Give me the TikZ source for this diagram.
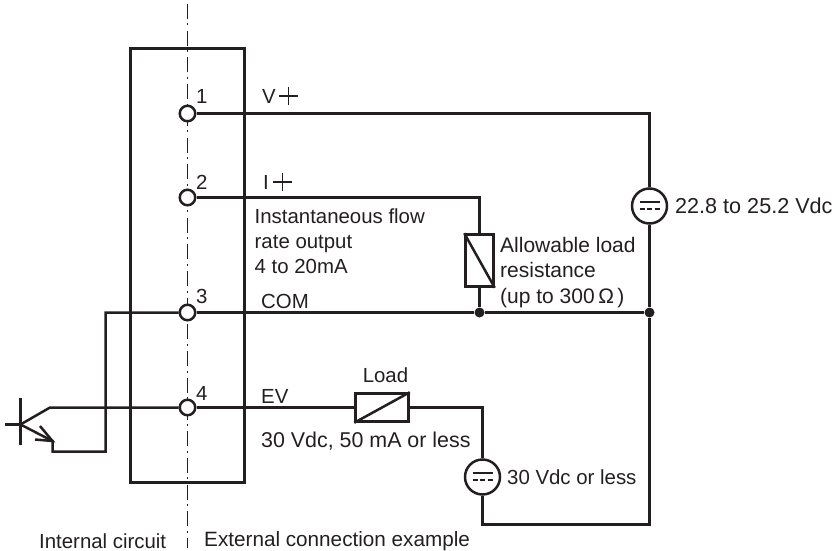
\documentclass[tikz,border=0pt]{standalone}
\usepackage{fontspec}
\setmainfont{Liberation Sans}
\usetikzlibrary{calc}
\definecolor{ink}{HTML}{231F20}
\tikzset{
  x=1pt,y=-1pt,
  wire/.style={draw=ink,line width=2.5pt},
  term/.style={circle,draw=ink,fill=white,line width=2.5pt,minimum size=15.5pt,inner sep=0pt},
  src/.style={circle,draw=ink,fill=white,line width=2.5pt,minimum size=35pt,inner sep=0pt},
  dotj/.style={circle,fill=ink,minimum size=10pt,inner sep=0pt},
  lab/.style={font=\fontsize{20.4}{25.2}\selectfont,text=ink,inner sep=0pt,anchor=west,align=left},
  labwide/.style={lab,font=\fontsize{#1}{25.2}\selectfont},
  load/.style={draw=ink,fill=white,line width=2.5pt,inner sep=0pt},
  center line/.style={draw=ink,line width=1pt,dash pattern=on 15pt off 4.5pt on 2pt off 5.2pt}
}
\newcommand{\srcbars}[1]{%
  \draw[ink,line width=2pt] ($(#1)+(-10,-3.8)$) -- ($(#1)+(10,-3.8)$);
  \draw[ink,line width=2pt,dash pattern=on 5pt off 2.5pt] ($(#1)+(-10,3.2)$) -- ($(#1)+(10,3.2)$);}
\begin{document}
\begin{tikzpicture}
\useasboundingbox (0,0) rectangle (832,551);
% centre line
\coordinate (ct) at (187.5,4);
\coordinate (cb) at (187.5,548);
\draw[center line] (ct) -- (cb);
% housing
\node[draw=ink,line width=2.5pt,minimum width=114pt,minimum height=434pt,inner sep=0pt] (box) at (187.5,265.5) {};
% nets
\coordinate (n1) at (649.5,113.5);
\coordinate (n2) at (479.5,197.5);
\coordinate (br) at (649.5,524.5);
\coordinate (bl) at (482.5,524.5);
\coordinate (lt) at (482.5,407.5);
\coordinate (q3) at (105.5,312.5);
\coordinate (qe) at (105.5,451.5);
\coordinate (qe2) at (52.5,451.5);
\coordinate (qe1) at (52.5,441);
\coordinate (qc) at (50,407.5);
\coordinate (qb) at (20.5,424.5);
\coordinate (qbt) at (20.5,398);
\coordinate (qbb) at (20.5,445);
\coordinate (qin) at (5,424.5);
\coordinate (ar1) at (40,426);
\coordinate (ar2) at (35,439.5);
% terminals
\node[term] (t1) at (187.5,113.5) {};
\node[term] (t2) at (187.5,197.5) {};
\node[term] (t3) at (187.5,312.5) {};
\node[term] (t4) at (187.5,407.5) {};
\node[dotj] (j1) at (479.5,312.5) {};
\node[dotj] (j2) at (649.5,312.5) {};
\node[src] (s1) at (649.5,206) {};
\node[src] (s2) at (482.5,477) {};
\node[load,minimum width=28pt,minimum height=52pt] (rl) at (479.5,260.5) {};
\node[load,minimum width=53pt,minimum height=28pt] (ld) at (382,407.5) {};
% wires
\draw[wire] (t1) -- (n1) -- (s1);
\draw[wire] (s1) -- (j2);
\draw[wire] (t2) -- (n2) -- (rl);
\draw[wire] (rl) -- (j1);
\draw[wire] (t3) -- (j1) -- (j2);
\draw[wire] (j2) -- (br) -- (bl) -- (s2);
\draw[wire] (t4) -- (ld);
\draw[wire] (ld) -- (lt) -- (s2);
\draw[wire,line join=miter] (t3) -- (q3) -- (qe) -- (qe2) -- (qe1) -- (qb);
\draw[wire] (t4) -- (qc) -- (qb);
\draw[wire] (qbt) -- (qbb);
\draw[wire] (qin) -- (qb);
\draw[wire] (ar1) -- (qe1) -- (ar2);
% symbols inside
\draw[ink,line width=2.5pt] (rl.north west) -- (rl.south east);
\draw[ink,line width=2.5pt] (ld.south west) -- (ld.north east);
\srcbars{s1}
\srcbars{s2}
% labels
\node[lab] (l1) at (196,96) {1};
\node[lab] (l2) at (196,182) {2};
\node[lab] (l3) at (196,296.5) {3};
\node[lab] (l4) at (196,393) {4};
\node[lab] (vp) at (262,96) {V};
\node[lab] (ip) at (263,182) {I};
\draw[ink,line width=1.1pt] (279,96) -- (298,96) (288.5,87) -- (288.5,105);
\draw[ink,line width=1.1pt] (273,182) -- (292,182) (282.5,173) -- (282.5,191);
\node[lab] (flow) at (254.5,241) {Instantaneous flow\\rate output\\4 to 20mA};
\node[lab] (com) at (261,301) {COM};
\node[lab] (ev) at (261,396) {EV};
\node[lab,anchor=center] (loadl) at (385.5,375) {Load};
\node[labwide=21.4] (spec) at (261,441) {30 Vdc, 50 mA or less};
\node[labwide=21.6] (v1) at (675,206) {22.8 to 25.2 Vdc};
\node[lab] (v2) at (507,477) {30 Vdc or less};
\node[labwide=21] (allow) at (500,272.5) {Allowable load\\resistance\\(up to 300\,Ω\,)};
\node[lab] (int) at (39,541) {Internal circuit};
\node[labwide=20.7] (ext) at (204,541) {External connection example};
\end{tikzpicture}
\end{document}
